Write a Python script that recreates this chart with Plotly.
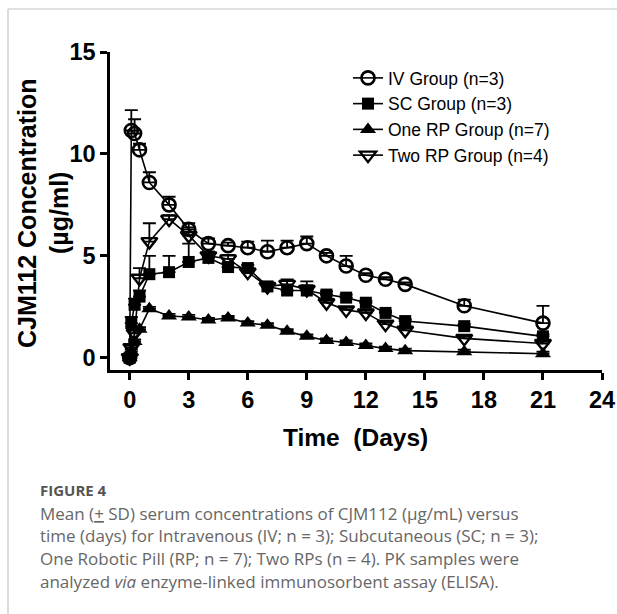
import plotly.graph_objects as go

W, H = 617, 614
ML, MR, MT, MB = 110, 15, 52, 244
PW, PH = W - ML - MR, H - MT - MB


def px2x(p):
    return (p - ML) / PW


def px2y(p):
    return (H - MB - p) / PH


# ---- data (days, µg/ml) ----
time = [0, 0.083, 0.25, 0.5, 1, 2, 3, 4, 5, 6, 7, 8, 9, 10, 11, 12, 13, 14, 17, 21]

iv_mean = [0, 11.15, 11.0, 10.2, 8.6, 7.5, 6.3, 5.6, 5.5, 5.4, 5.2, 5.4, 5.6, 5.0, 4.5, 4.05, 3.85, 3.6, 2.55, 1.7]
iv_sd = [0, 1.0, 0.7, 0.3, 0.5, 0.4, 0.3, 0.25, 0.15, 0.3, 0.55, 0.35, 0.35, 0.15, 0.5, 0.1, 0.1, 0.1, 0.3, 0.85]

sc_mean = [0, 1.7, 2.6, 3.0, 4.1, 4.2, 4.7, 4.9, 4.45, 4.4, 3.5, 3.3, 3.3, 3.1, 2.95, 2.7, 2.2, 1.8, 1.55, 1.05]
sc_sd = [0, 0.3, 0.3, 0.3, 0.9, 0.8, 0.9, 0.3, 0.2, 0.15, 0.15, 0.5, 0.45, 0.15, 0.15, 0.1, 0.1, 0.1, 0.1, 0.1]

rp1_mean = [0, 0.3, 0.8, 1.4, 2.4, 2.05, 2.0, 1.85, 1.95, 1.7, 1.6, 1.3, 1.05, 0.85, 0.75, 0.6, 0.45, 0.35, 0.3, 0.2]
rp1_sd = [0, 0.1, 0.1, 0.1, 0.1, 0.1, 0.1, 0.1, 0.1, 0.1, 0.1, 0.1, 0.1, 0.1, 0.1, 0.1, 0.1, 0.1, 0.1, 0.1]

rp2_mean = [0, 0.5, 1.2, 3.9, 5.7, 6.8, 6.0, 5.0, 4.85, 4.2, 3.5, 3.6, 3.35, 2.7, 2.35, 2.2, 1.65, 1.35, 0.95, 0.7]
rp2_sd = [0, 0.1, 0.3, 0.5, 0.9, 0.2, 0.4, 0.2, 0.2, 0.2, 0.2, 0.25, 0.2, 0.1, 0.1, 0.1, 0.1, 0.1, 0.1, 0.1]

names = ["IV Group (n=3)", "SC Group (n=3)", "One RP Group (n=7)", "Two RP Group (n=4)"]
x_ticks = [0, 3, 6, 9, 12, 15, 18, 21, 24]
y_ticks = [0, 5, 10, 15]

series = [
    (names[0], iv_mean, iv_sd, dict(symbol="circle-open", size=13, line=dict(width=2.6, color="black"))),
    (names[1], sc_mean, sc_sd, dict(symbol="square", size=12, color="black")),
    (names[2], rp1_mean, rp1_sd, dict(symbol="triangle-up", size=14, color="black")),
    (names[3], rp2_mean, rp2_sd, dict(symbol="triangle-down-open", size=14, line=dict(width=2.4, color="black"))),
]

fig = go.Figure()
for i, (nm, m, sd, mk) in enumerate(series):
    mk = dict(mk)
    mk.setdefault("color", "black")
    fig.add_trace(go.Scatter(
        x=time, y=m, name=nm, mode="lines+markers",
        line=dict(color="black", width=1.6),
        marker=mk,
        legendgroup=f"g{i}",
        error_y=dict(type="data", array=sd, arrayminus=[0] * len(sd), symmetric=False,
                     color="black", thickness=1.8, width=6.5),
    ))

FONT = "Liberation Sans, Arial, sans-serif"

fig.update_layout(
    width=W, height=H,
    margin=dict(l=ML, r=MR, t=MT, b=MB, pad=0, autoexpand=False),
    paper_bgcolor="white", plot_bgcolor="white",
    showlegend=True,
    legend=dict(x=px2x(348), y=px2y(60), xanchor="left", yanchor="top",
                font=dict(family=FONT, size=17.5, color="black"),
                bgcolor="rgba(0,0,0,0)", tracegroupgap=0, itemwidth=30),
    xaxis=dict(range=[-1, 24], tickvals=x_ticks, ticktext=[str(v) for v in x_ticks],
               showgrid=False, zeroline=False, showline=True, linecolor="black", linewidth=2.5,
               ticks="outside", ticklen=7, tickwidth=2.5, tickcolor="black",
               automargin=False, ticklabeloverflow="allow",
               tickfont=dict(family=FONT, size=23.5, color="black", weight="bold")),
    yaxis=dict(range=[-0.6, 15], tickvals=y_ticks, ticktext=[str(v) for v in y_ticks],
               showgrid=False, zeroline=False, showline=True, linecolor="black", linewidth=2.5,
               ticks="outside", ticklen=7, tickwidth=2.5, tickcolor="black",
               automargin=False, ticklabeloverflow="allow",
               tickfont=dict(family=FONT, size=23.5, color="black", weight="bold")),
)

ann = []
# axis titles
ann.append(dict(text="<b>Time  (Days)</b>", x=px2x(355), y=px2y(437), xref="paper", yref="paper",
                showarrow=False, font=dict(family=FONT, size=24.5, color="black"),
                xanchor="center", yanchor="middle"))
ann.append(dict(text="<b>CJM112 Concentration</b>", x=px2x(27), y=px2y(213), xref="paper", yref="paper",
                showarrow=False, textangle=-90, font=dict(family=FONT, size=25, color="black"),
                xanchor="center", yanchor="middle"))
ann.append(dict(text="<b>(µg/ml)</b>", x=px2x(59), y=px2y(213), xref="paper", yref="paper",
                showarrow=False, textangle=-90, font=dict(family=FONT, size=25, color="black"),
                xanchor="center", yanchor="middle"))

# caption
CAP = "Open Sans, Lato, sans-serif"
ann.append(dict(text="<b>FIGURE 4</b>", x=px2x(38), y=px2y(490), xref="paper", yref="paper",
                showarrow=False, font=dict(family=CAP, size=15, color="#555555"),
                xanchor="left", yanchor="middle"))
cap_lines = [
    "Mean (<u>+</u> SD) serum concentrations of CJM112 (µg/mL) versus",
    "time (days) for Intravenous (IV; n = 3); Subcutaneous (SC; n = 3);",
    "One Robotic Pill (RP; n = 7); Two RPs (n = 4). PK samples were",
    "analyzed <i>via</i> enzyme-linked immunosorbent assay (ELISA).",
]
for k, ln in enumerate(cap_lines):
    ann.append(dict(text=ln, x=px2x(38), y=px2y(513 + 22.7 * k), xref="paper", yref="paper",
                    showarrow=False, font=dict(family=CAP, size=17, color="#666666"),
                    xanchor="left", yanchor="middle"))
fig.update_layout(annotations=ann)

# page frame (top and left border)
fig.add_shape(type="line", xref="paper", yref="paper", x0=px2x(8), x1=px2x(617), y0=px2y(9), y1=px2y(9),
              line=dict(color="#c4c4c4", width=1.2))
fig.add_shape(type="line", xref="paper", yref="paper", x0=px2x(8), x1=px2x(8), y0=px2y(9), y1=px2y(614),
              line=dict(color="#c4c4c4", width=1.2))

fig.write_html("out.html", config={"displayModeBar": False})
